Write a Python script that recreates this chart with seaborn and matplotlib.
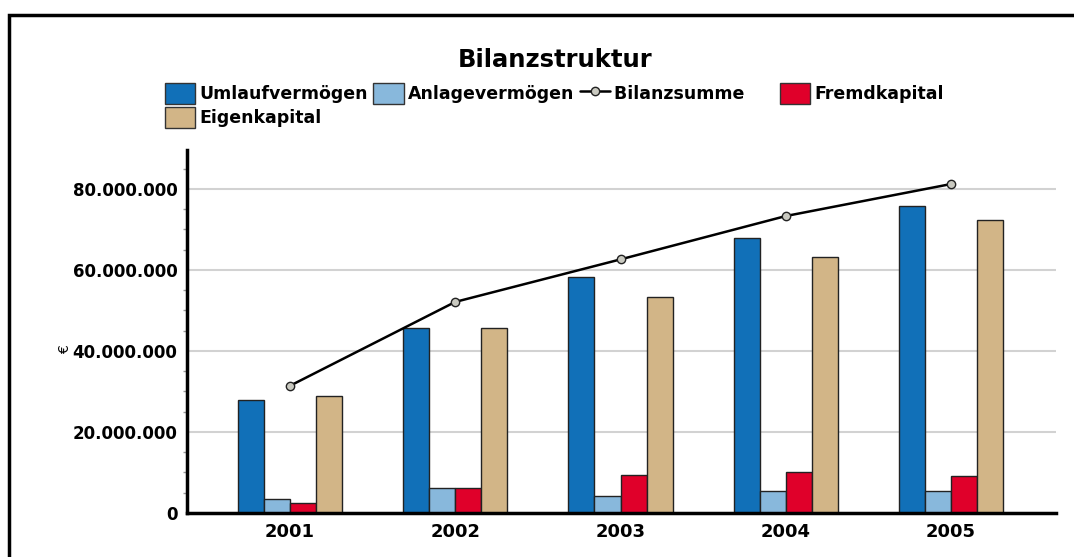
import numpy as np
import pandas as pd
import matplotlib
matplotlib.use("Agg")
import matplotlib.pyplot as plt
import seaborn as sns
from matplotlib.ticker import FuncFormatter, MultipleLocator
from matplotlib.lines import Line2D
from matplotlib.patches import Patch, Rectangle

years = ["2001", "2002", "2003", "2004", "2005"]
umlauf = [27.9e6, 45.7e6, 58.3e6, 68.0e6, 75.8e6]
anlage = [3.5e6, 6.2e6, 4.3e6, 5.4e6, 5.4e6]
fremd = [2.4e6, 6.2e6, 9.4e6, 10.2e6, 9.1e6]
eigen = [28.9e6, 45.7e6, 53.2e6, 63.1e6, 72.2e6]
bilanz = [31.4e6, 52.1e6, 62.6e6, 73.3e6, 81.2e6]
series_names = ["Umlaufvermögen", "Anlagevermögen", "Fremdkapital", "Eigenkapital"]
colors = ["#1170b8", "#88b8dc", "#e0002a", "#d2b587"]

sns.set_style("white")
plt.rcParams["font.family"] = ["DejaVu Sans"]
plt.rcParams["text.color"] = "black"
plt.rcParams["xtick.labelcolor"] = "black"
plt.rcParams["ytick.labelcolor"] = "black"
plt.rcParams["axes.labelcolor"] = "black"

df = pd.DataFrame({
    "Jahr": years * 4,
    "Wert": umlauf + anlage + fremd + eigen,
    "Serie": [s for s in series_names for _ in years],
})
df_b = pd.DataFrame({"Jahr": years, "Wert": bilanz})

W, H = 1074, 557
fig = plt.figure(figsize=(W / 100, H / 100), dpi=100)
ax = fig.add_axes([187 / W, (H - 513) / H, (1056 - 187) / W, (513 - 150) / H])

sns.barplot(data=df, x="Jahr", y="Wert", hue="Serie", hue_order=series_names,
            palette=colors, saturation=1, width=0.63, gap=0, edgecolor="#222222",
            linewidth=1, errorbar=None, legend=False, ax=ax, zorder=2)
sns.pointplot(data=df_b, x="Jahr", y="Wert", color="black", markers="o",
              linestyles="-", errorbar=None, ax=ax)
for ln in ax.lines:
    ln.set_linewidth(1.8)
    ln.set_markersize(6)
    ln.set_markerfacecolor("#c9c9c0")
    ln.set_markeredgecolor("#222222")
    ln.set_markeredgewidth(1)
    ln.set_zorder(4)

ax.set_xlim(-0.623, 4.635)
ax.set_ylim(0, 89.6e6)
ax.yaxis.set_major_locator(MultipleLocator(20e6))
ax.yaxis.set_minor_locator(MultipleLocator(5e6))
ax.yaxis.set_major_formatter(FuncFormatter(lambda v, p: f"{int(round(v)):,}".replace(",", ".")))
ax.grid(axis="y", which="major", color="#d2d2d2", linewidth=1.5, zorder=0)
ax.set_axisbelow(True)
for s in ["top", "right"]:
    ax.spines[s].set_visible(False)
for s in ["left", "bottom"]:
    ax.spines[s].set_color("black")
    ax.spines[s].set_linewidth(2.5)
ax.tick_params(axis="y", which="major", length=5, width=1, color="#888888", pad=2,
               labelsize=12, labelcolor="black")
ax.tick_params(axis="y", which="minor", length=3, width=1, color="#999999", left=True)
ax.tick_params(axis="x", which="major", length=4, width=1, color="#888888", pad=3,
               labelsize=13, labelcolor="black")
for lab in ax.get_xticklabels() + ax.get_yticklabels():
    lab.set_fontweight("bold")
ax.set_xlabel("")
ax.set_ylabel("")
fig.text(65 / W, (H - 350) / H, "€", rotation=90, ha="center", va="center",
         fontsize=10, color="black")

fig.text(555 / W, (H - 60) / H, "Bilanzstruktur", ha="center", va="center",
         fontsize=17.5, fontweight="bold", color="black")

handles = {
    "Umlaufvermögen": Patch(facecolor=colors[0], edgecolor="#333333", linewidth=1),
    "Anlagevermögen": Patch(facecolor=colors[1], edgecolor="#333333", linewidth=1),
    "Fremdkapital": Patch(facecolor=colors[2], edgecolor="#333333", linewidth=1),
    "Eigenkapital": Patch(facecolor=colors[3], edgecolor="#333333", linewidth=1),
    "Bilanzsumme": Line2D([], [], color="black", linewidth=1.8, marker="o", markersize=6,
                          markerfacecolor="#c9c9c0", markeredgecolor="#222222"),
}
order = ["Umlaufvermögen", "Eigenkapital", "Anlagevermögen", "Bilanzsumme", "Fremdkapital"]
labels = [o if o != "Bilanzsumme" else "Bilanzsumme     " for o in order]
fig.legend([handles[o] for o in order], labels, ncol=4, frameon=False,
           loc="upper left", bbox_to_anchor=(165 / W, (H - 83) / H),
           borderpad=0, borderaxespad=0, handlelength=1.75, handleheight=1.45,
           handletextpad=0.25, columnspacing=0.3, labelspacing=0.2,
           prop={"weight": "bold", "size": 12.5})

fig.patches.append(Rectangle((9 / W, -0.2), 1.2, (H - 15) / H + 0.2,
                             transform=fig.transFigure, fill=False,
                             edgecolor="black", linewidth=2.5))

fig.savefig("out.png", dpi=100)
